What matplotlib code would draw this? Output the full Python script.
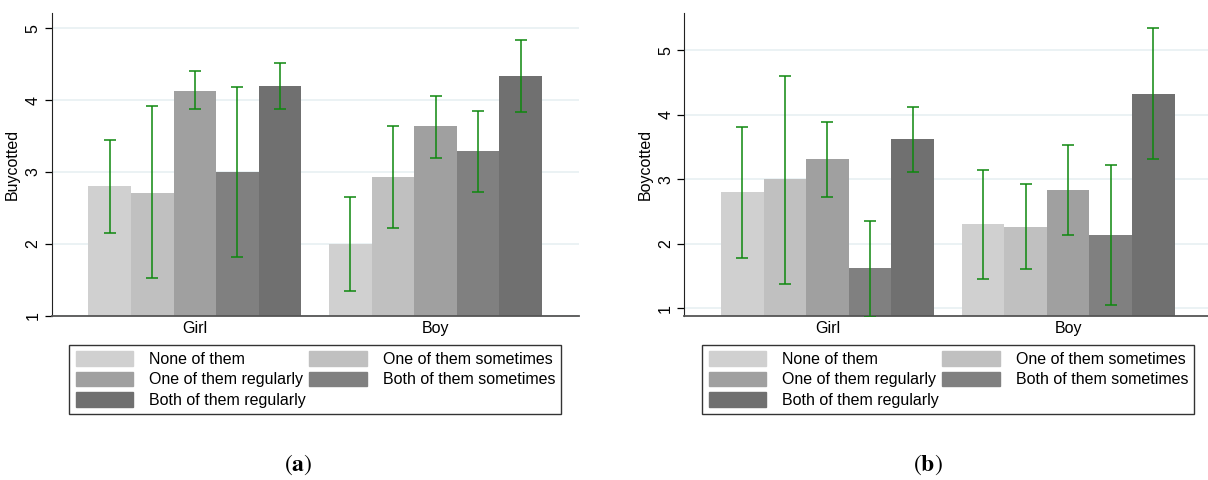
import numpy as np
import matplotlib
matplotlib.use("Agg")
import matplotlib.pyplot as plt

plt.rcParams["font.family"] = ["Liberation Sans", "DejaVu Sans"]
plt.rcParams["mathtext.fontset"] = "stix"

# --- data ---
groups = ["Girl", "Boy"]
series = ["None of them", "One of them sometimes", "One of them regularly",
          "Both of them sometimes", "Both of them regularly"]
colors = ["#d0d0d0", "#c0c0c0", "#a0a0a0", "#808080", "#707070"]

# panel (a): Buycotted
girl_a = [2.80, 2.71, 4.13, 3.00, 4.20]
girl_a_lo = [2.15, 1.52, 3.87, 1.82, 3.88]
girl_a_hi = [3.45, 3.91, 4.40, 4.18, 4.52]
boy_a = [2.00, 2.93, 3.64, 3.29, 4.33]
boy_a_lo = [1.35, 2.22, 3.20, 2.72, 3.83]
boy_a_hi = [2.65, 3.64, 4.06, 3.85, 4.84]

# panel (b): Boycotted
girl_b = [2.80, 3.00, 3.31, 1.63, 3.62]
girl_b_lo = [1.78, 1.38, 2.73, 0.86, 3.11]
girl_b_hi = [3.81, 4.61, 3.89, 2.36, 4.12]
boy_b = [2.31, 2.26, 2.84, 2.14, 4.33]
boy_b_lo = [1.46, 1.61, 2.14, 1.05, 3.32]
boy_b_hi = [3.15, 2.92, 3.54, 3.23, 5.35]

centers = [0.2714, 0.728]
width = 0.0807
green = "#0e880e"


def panel(ax, vals, lows, highs, ylim, yticks, ylabel):
    base = ylim[0]
    for gi, (v, lo, hi) in enumerate(zip(vals, lows, highs)):
        x = centers[gi] + (np.arange(5) - 2) * width
        v = np.array(v)
        ax.bar(x, v - base, bottom=base, width=width, color=colors,
               edgecolor="none", zorder=2)
        ax.errorbar(x, v, yerr=[v - np.array(lo), np.array(hi) - v], fmt="none",
                    ecolor=green, elinewidth=1.1, capsize=4, capthick=1.1,
                    zorder=3)
    ax.set_xlim(0, 1)
    ax.set_ylim(*ylim)
    ax.set_yticks(yticks)
    ax.set_xticks(centers)
    ax.set_xticklabels(groups)
    ax.yaxis.grid(True, color="#e8f0f2", lw=1.2, zorder=0)
    ax.set_axisbelow(True)
    for s in ["top", "right"]:
        ax.spines[s].set_visible(False)
    ax.spines["left"].set_color("#222222")
    ax.spines["bottom"].set_color("#555555")
    ax.spines["bottom"].set_linewidth(1.3)
    ax.tick_params(axis="y", length=5, width=0.9, labelsize=11.5,
                   labelrotation=90, pad=3)
    ax.tick_params(axis="x", length=0, labelsize=11.5, pad=4)
    for t in ax.get_yticklabels():
        t.set_va("center")
    ax.set_ylabel(ylabel, fontsize=11.5, labelpad=4)


fig = plt.figure(figsize=(12.08, 4.8), dpi=100)
ax1 = fig.add_axes([0.0428, 0.3423, 0.4365, 0.6306])
ax2 = fig.add_axes([0.5665, 0.3423, 0.4365, 0.6306])

panel(ax1, [girl_a, boy_a], [girl_a_lo, boy_a_lo], [girl_a_hi, boy_a_hi],
      (1, 5.21), [1, 2, 3, 4, 5], "Buycotted")
panel(ax2, [girl_b, boy_b], [girl_b_lo, boy_b_lo], [girl_b_hi, boy_b_hi],
      (0.885, 5.58), [1, 2, 3, 4, 5], "Boycotted")

# legend is filled row by row in the reference, matplotlib fills columns
order = [0, 2, 4, 1, 3]
handles = [plt.Rectangle((0, 0), 1, 1, color=colors[i]) for i in order]
labels = [series[i] for i in order]
for left in [0.0574, 0.5814]:
    leg = fig.legend(handles, labels, ncol=2, loc="center",
                     bbox_to_anchor=(left, 0.1354, 0.4074, 0.1473),
                     mode="expand", fontsize=11.5, frameon=True,
                     fancybox=False, edgecolor="black", handlelength=3.6,
                     handleheight=1.0, handletextpad=1.0, labelspacing=0.3,
                     borderpad=0.4, borderaxespad=0)
    leg.get_frame().set_linewidth(1.0)

fig.text(0.247, 0.031, r"$(\mathbf{a})$", fontsize=17, ha="center", va="center")
fig.text(0.768, 0.031, r"$(\mathbf{b})$", fontsize=17, ha="center", va="center")

fig.savefig("out.png", dpi=100)
